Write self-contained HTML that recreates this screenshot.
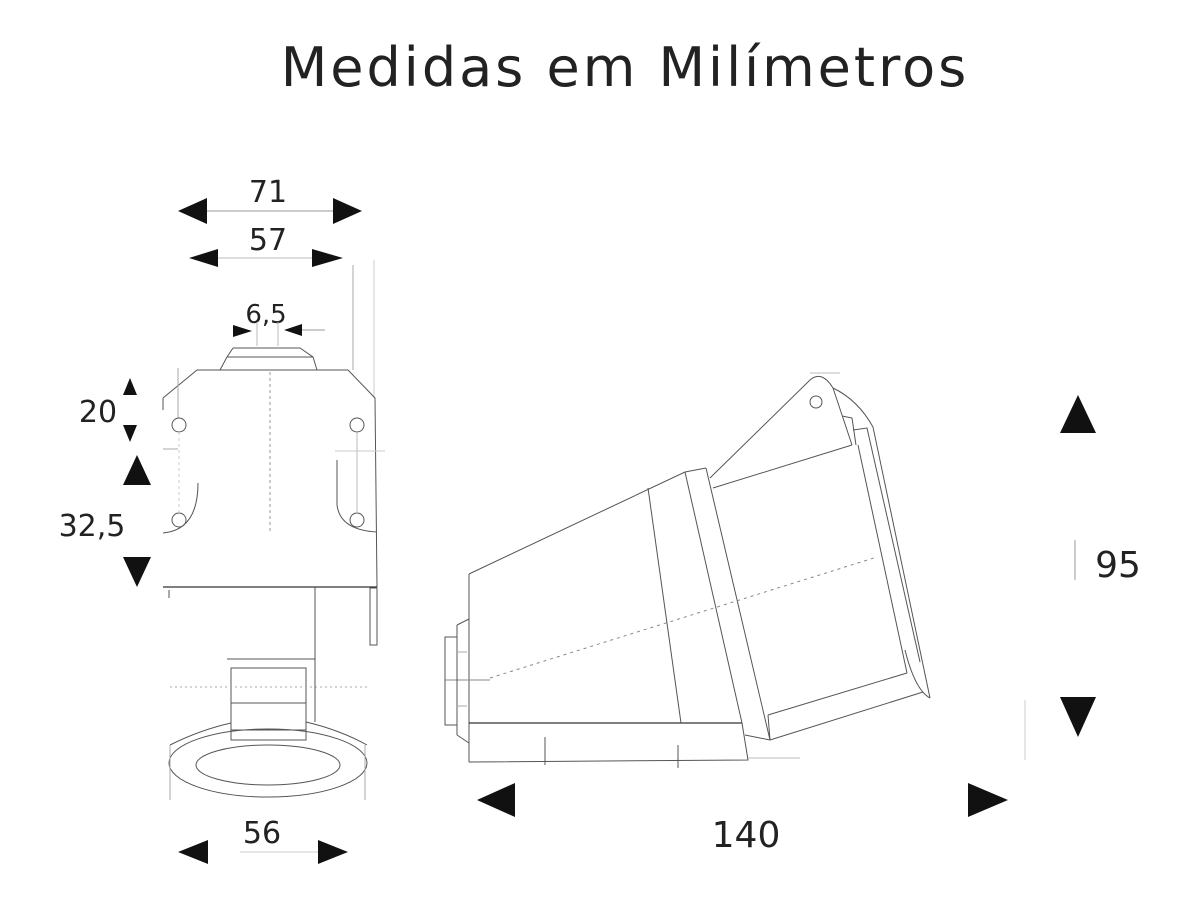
<!DOCTYPE html>
<html><head><meta charset="utf-8"><style>
html,body{margin:0;padding:0;background:#fff;}
svg{display:block;}
text{font-family:"DejaVu Sans","Liberation Sans",sans-serif;fill:#222;}
</style></head><body>
<svg width="1196" height="906" viewBox="0 0 1196 906" xmlns="http://www.w3.org/2000/svg">
<text x="625" y="86" font-size="54" text-anchor="middle" letter-spacing="3">Medidas em Milímetros</text>
<g fill="#111">
<polygon points="178,211 207,198 207,224"/><polygon points="362,211 333,198 333,224"/>
<polygon points="189,258 218,249 218,267"/><polygon points="343,258 312,249 312,267"/>
<polygon points="252,331 233,325 233,337"/><polygon points="284,330 302,324 302,336"/>
<polygon points="130,378 123,395 137,395"/><polygon points="130,442 123,425 137,425"/>
<polygon points="137,455 123,485 151,485"/><polygon points="137,587 123,557 151,557"/>
<polygon points="1078,395 1060,433 1096,433"/><polygon points="1078,737 1060,697 1096,697"/>
<polygon points="477,800 515,783 515,817"/><polygon points="1008,800 968,783 968,817"/>
<polygon points="178,852 208,840 208,864"/><polygon points="348,852 318,840 318,864"/>
</g>
<g font-size="30">
<text x="268" y="202" text-anchor="middle">71</text>
<text x="268" y="250" text-anchor="middle">57</text>
<text x="266" y="323" text-anchor="middle" font-size="26">6,5</text>
<text x="98" y="422" text-anchor="middle">20</text>
<text x="92" y="536" text-anchor="middle">32,5</text>
<text x="1118" y="577" text-anchor="middle" font-size="36">95</text>
<text x="746" y="847" text-anchor="middle" font-size="36">140</text>
<text x="262" y="843" text-anchor="middle">56</text>
</g>
<g stroke="#555" stroke-width="1" fill="none">
<line x1="207" y1="211" x2="333" y2="211" stroke="#999"/>
<line x1="218" y1="258" x2="312" y2="258" stroke="#bbb"/>
<line x1="302" y1="330" x2="325" y2="330" stroke="#999"/>
<line x1="257" y1="322" x2="257" y2="346" stroke="#bbb"/>
<line x1="278" y1="322" x2="278" y2="346" stroke="#bbb"/>
<line x1="353" y1="265" x2="353" y2="370" stroke="#aaa"/>
<line x1="374" y1="260" x2="374" y2="398" stroke="#ccc"/>
<line x1="1075" y1="540" x2="1075" y2="580" stroke="#999"/>
<line x1="240" y1="852" x2="318" y2="852" stroke="#ccc"/>
<polyline points="233,348 300,348 313,357 317,370"/>
<polyline points="233,348 227,357 220,370"/>
<line x1="227" y1="357" x2="313" y2="357"/>
<polyline points="163,398 197,370 348,370 375,398 377,587"/>
<line x1="163" y1="398" x2="163" y2="410"/>
<line x1="163" y1="587" x2="377" y2="587" stroke="#333" stroke-width="1.3"/>
<path d="M198,483 Q198,530 163,533"/>
<path d="M337,460 L337,505 Q340,530 377,532"/>
<line x1="178" y1="368" x2="178" y2="418" stroke="#aaa"/>
<line x1="163" y1="449" x2="178" y2="449" stroke="#aaa"/>
<line x1="335" y1="451" x2="385" y2="451" stroke="#ccc"/>
<circle cx="179" cy="425" r="7"/><circle cx="179" cy="520" r="7"/>
<circle cx="357" cy="425" r="7"/><circle cx="357" cy="520" r="7"/>
<line x1="357" y1="432" x2="357" y2="513" stroke="#bbb"/>
<line x1="179" y1="432" x2="179" y2="513" stroke="#ccc" stroke-dasharray="3 3"/>
<line x1="270" y1="372" x2="270" y2="533" stroke="#999" stroke-dasharray="3 3"/>
<line x1="315" y1="587" x2="315" y2="659"/>
<line x1="169" y1="590" x2="169" y2="598"/>
<rect x="370" y="588" width="7" height="57"/>
<line x1="227" y1="659" x2="315" y2="659"/>
<rect x="231" y="668" width="75" height="72"/>
<line x1="231" y1="703" x2="306" y2="703"/>
<line x1="231" y1="730" x2="306" y2="730"/>
<line x1="170" y1="687" x2="368" y2="687" stroke="#aaa" stroke-dasharray="2 3"/>
<line x1="315" y1="659" x2="315" y2="722"/>
<ellipse cx="268" cy="763" rx="99" ry="34"/>
<ellipse cx="268" cy="765" rx="72" ry="20"/>
<path d="M170,745 Q200,730 231,723"/><path d="M306,722 Q340,730 367,745"/>
<line x1="170" y1="745" x2="170" y2="800" stroke="#aaa"/>
<line x1="365" y1="745" x2="365" y2="800" stroke="#aaa"/>
<polyline points="469,574 685,472 706,468"/>
<line x1="469" y1="574" x2="469" y2="762"/>
<line x1="469" y1="723" x2="742" y2="723" stroke="#333" stroke-width="1.3"/>
<line x1="648" y1="488" x2="681" y2="723"/>
<line x1="685" y1="472" x2="742" y2="723"/>
<line x1="706" y1="468" x2="770" y2="740"/>
<polyline points="742,723 748,760 469,762"/>
<line x1="748" y1="758" x2="800" y2="758" stroke="#bbb"/>
<line x1="545" y1="737" x2="545" y2="765"/>
<line x1="678" y1="745" x2="678" y2="768"/>
<line x1="713" y1="488" x2="852" y2="445"/>
<path d="M710,478 L810,380 Q822,370 833,388"/>
<path d="M833,388 Q858,400 873,427 L930,698"/>
<line x1="833" y1="388" x2="852" y2="445"/>
<polyline points="842,416 852,418 856,445"/>
<polyline points="853,430 867,428 920,662"/>
<circle cx="816" cy="402" r="6"/>
<line x1="858" y1="445" x2="907" y2="673"/>
<line x1="768" y1="715" x2="907" y2="673"/>
<line x1="770" y1="740" x2="923" y2="692"/>
<line x1="745" y1="735" x2="770" y2="740"/>
<line x1="768" y1="715" x2="770" y2="740"/>
<path d="M905,650 Q915,690 930,698"/>
<line x1="810" y1="373" x2="840" y2="373" stroke="#bbb"/>
<line x1="490" y1="678" x2="877" y2="557" stroke="#888" stroke-dasharray="3 4"/>
<line x1="445" y1="680" x2="490" y2="680" stroke="#888"/>
<rect x="445" y="637" width="12" height="88"/>
<polyline points="457,625 469,619"/>
<line x1="457" y1="625" x2="457" y2="735"/>
<polyline points="457,735 469,743"/>
<line x1="457" y1="652" x2="467" y2="652" stroke="#aaa"/>
<line x1="457" y1="706" x2="467" y2="706" stroke="#aaa"/>
<line x1="1025" y1="700" x2="1025" y2="760" stroke="#ccc"/>
</g>
</svg>
</body></html>
